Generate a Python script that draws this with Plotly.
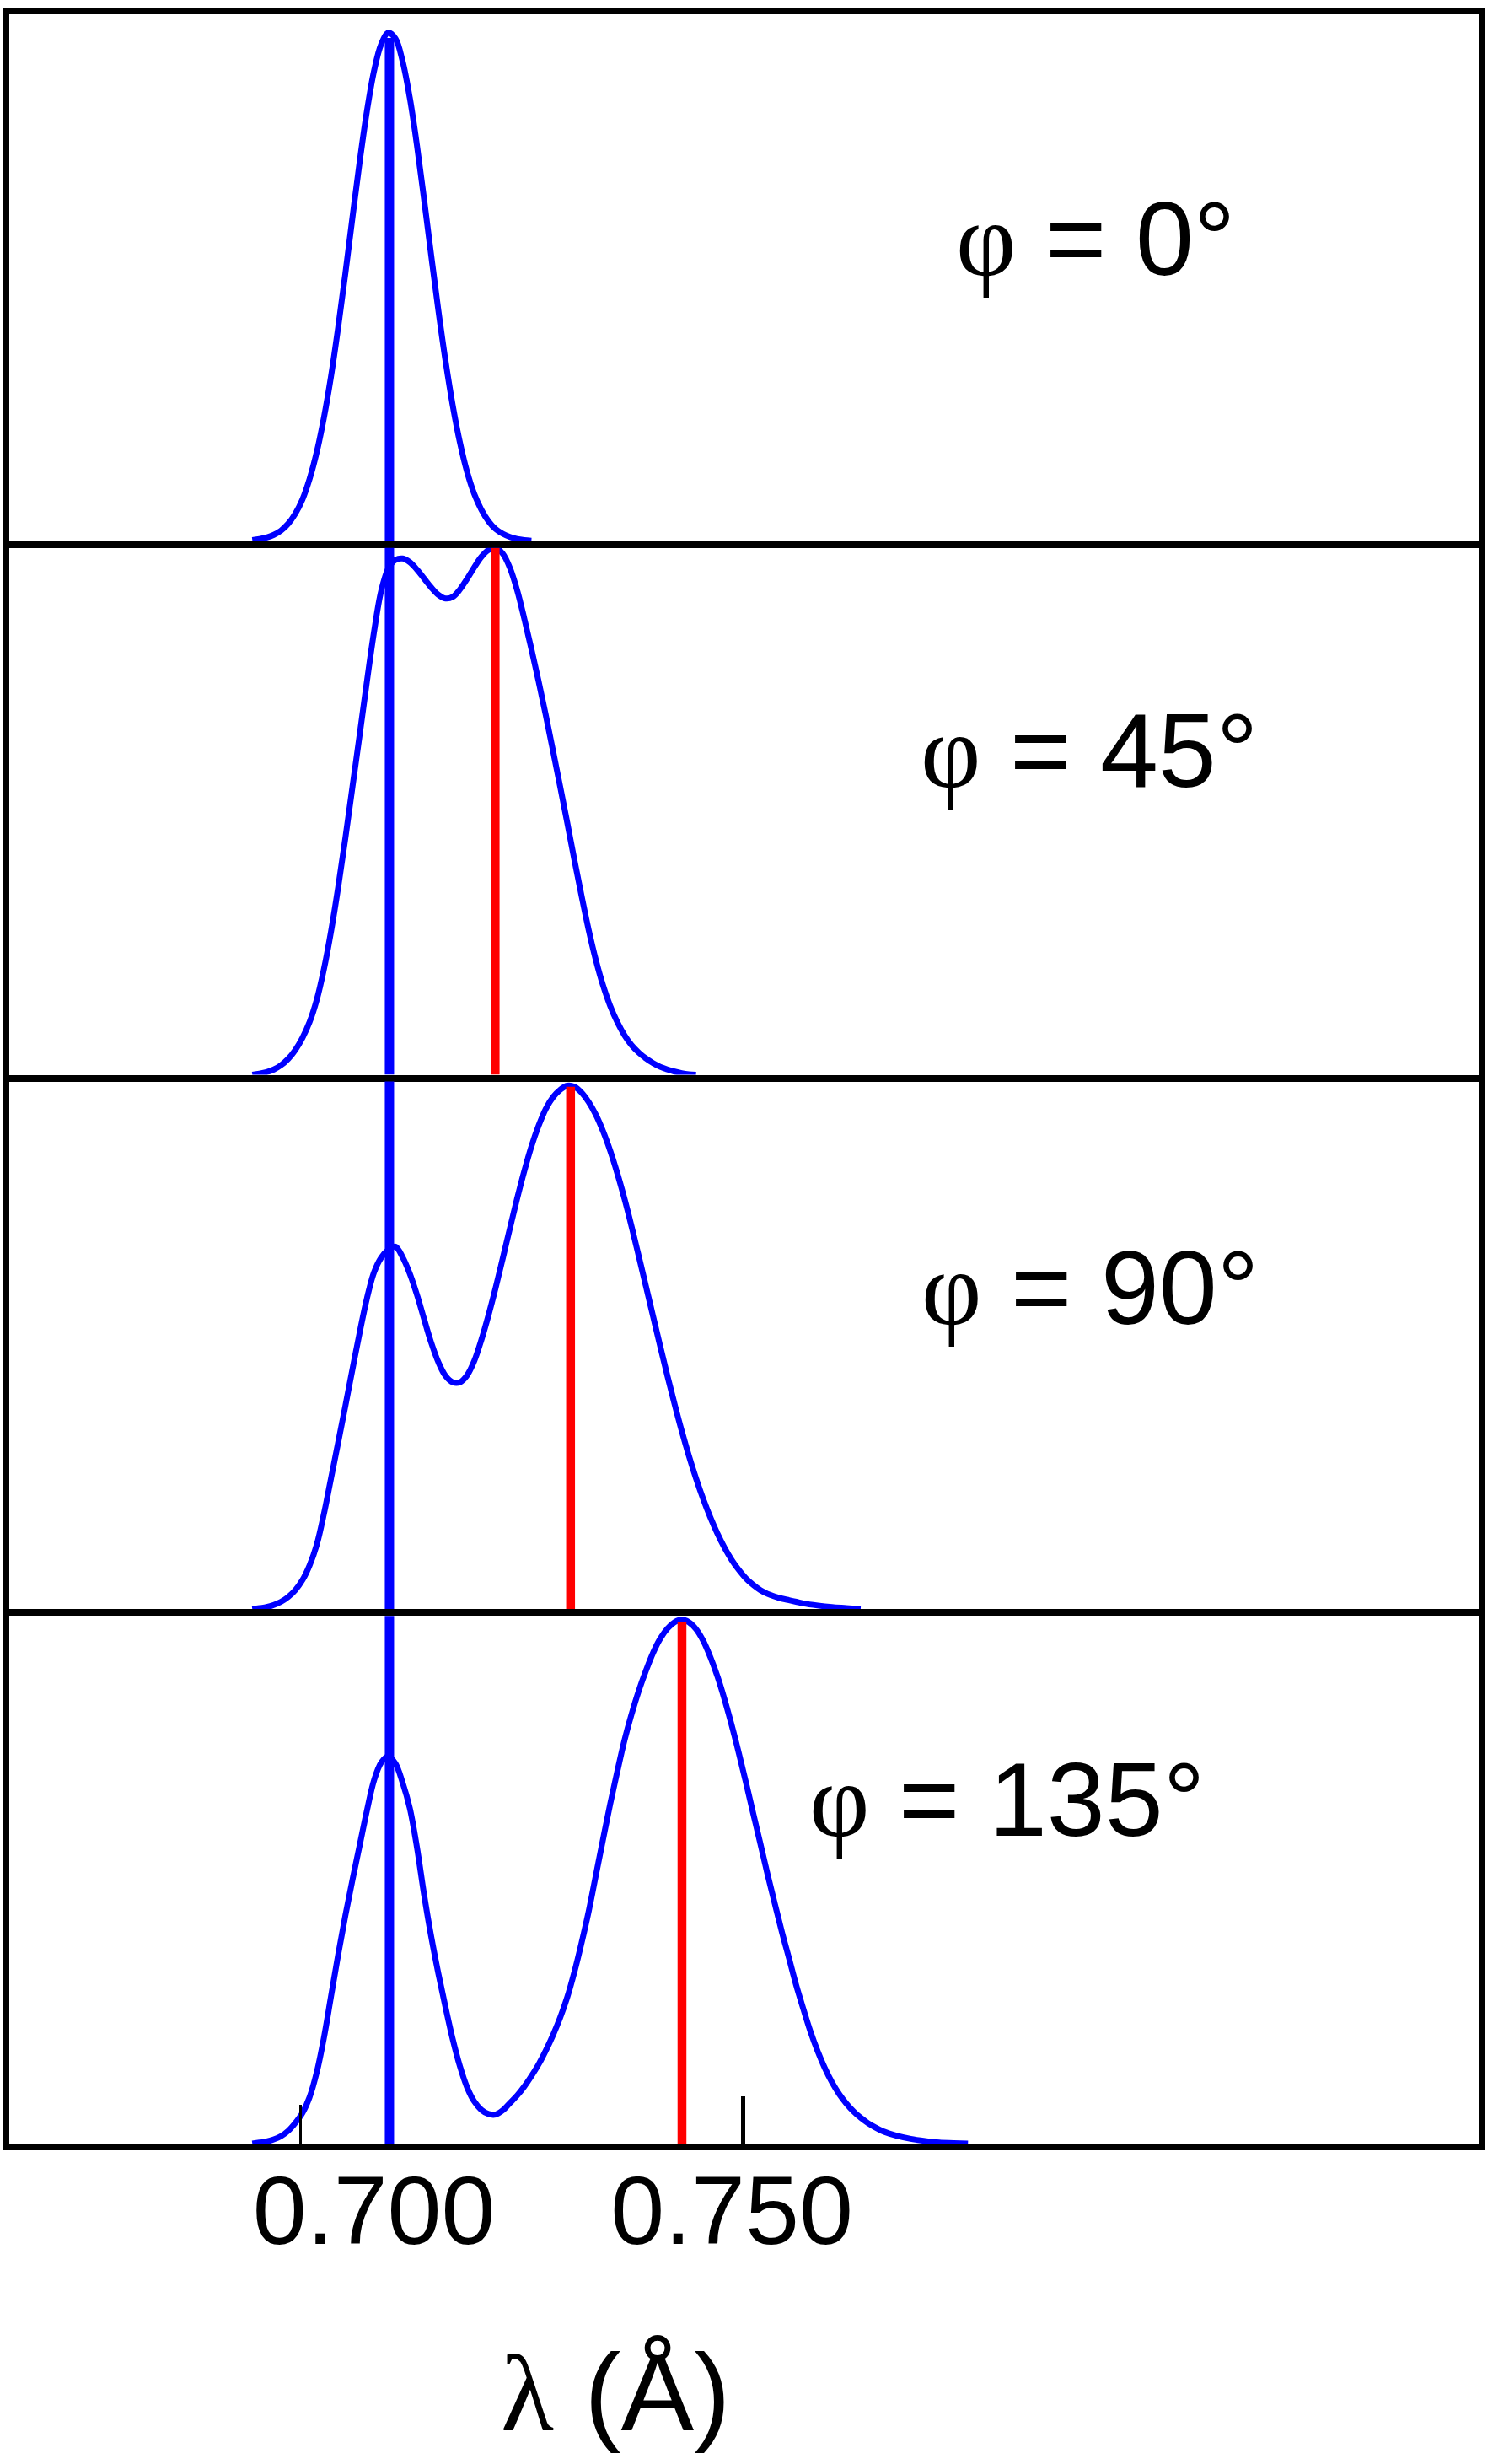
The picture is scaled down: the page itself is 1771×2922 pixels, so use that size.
import plotly.graph_objects as go

# ---------------- data ----------------
angle_labels = ["0°", "45°", "90°", "135°"]
tick_vals = [0.700, 0.750]
tick_text = ["0.700", "0.750"]
x_range = [0.64904, 0.85436]

# phi = 0 deg
lam_0 = [0.683, 0.684, 0.685, 0.686, 0.687, 0.688, 0.689, 0.690, 0.691, 0.692,
         0.693, 0.694, 0.695, 0.696, 0.697, 0.698, 0.699, 0.700, 0.701, 0.702,
         0.703, 0.704, 0.705, 0.706, 0.707, 0.708, 0.709, 0.710, 0.711, 0.712,
         0.713, 0.714, 0.715, 0.716, 0.717, 0.718, 0.719, 0.720, 0.721, 0.722]
int_0 = [0.002, 0.004, 0.007, 0.012, 0.020, 0.033, 0.052, 0.079, 0.118, 0.169,
         0.234, 0.313, 0.406, 0.508, 0.615, 0.720, 0.815, 0.892, 0.943, 0.965,
         0.954, 0.911, 0.842, 0.752, 0.649, 0.542, 0.438, 0.342, 0.258, 0.188,
         0.132, 0.090, 0.060, 0.038, 0.023, 0.014, 0.008, 0.004, 0.002, 0.001]

# phi = 45 deg
lam_45 = [0.683, 0.684, 0.685, 0.686, 0.687, 0.688, 0.689, 0.690, 0.691, 0.692,
          0.693, 0.694, 0.695, 0.696, 0.697, 0.698, 0.699, 0.700, 0.701, 0.702,
          0.703, 0.704, 0.705, 0.706, 0.707, 0.708, 0.709, 0.710, 0.711, 0.712,
          0.713, 0.714, 0.715, 0.716, 0.717, 0.718, 0.719, 0.720, 0.721, 0.722,
          0.723, 0.724, 0.725, 0.726, 0.727, 0.728, 0.729, 0.730, 0.731, 0.732,
          0.733, 0.734, 0.735, 0.736, 0.737, 0.738, 0.739, 0.740, 0.741, 0.742,
          0.743, 0.744, 0.745]
int_45 = [0.000, 0.002, 0.005, 0.010, 0.018, 0.030, 0.047, 0.070, 0.100, 0.142,
          0.200, 0.272, 0.356, 0.449, 0.547, 0.645, 0.745, 0.840, 0.918, 0.961,
          0.977, 0.980, 0.973, 0.959, 0.942, 0.925, 0.911, 0.904, 0.907, 0.921,
          0.941, 0.963, 0.983, 0.996, 1.000, 0.989, 0.962, 0.920, 0.866, 0.808,
          0.747, 0.683, 0.616, 0.548, 0.479, 0.408, 0.340, 0.275, 0.218, 0.170,
          0.131, 0.100, 0.075, 0.056, 0.042, 0.031, 0.022, 0.015, 0.010, 0.006,
          0.003, 0.001, 0.000]

# phi = 90 deg
lam_90 = [0.683, 0.684, 0.685, 0.686, 0.687, 0.688, 0.689, 0.690, 0.691, 0.692,
          0.693, 0.694, 0.695, 0.696, 0.697, 0.698, 0.699, 0.700, 0.701, 0.702,
          0.703, 0.704, 0.705, 0.706, 0.707, 0.708, 0.709, 0.710, 0.711, 0.712,
          0.713, 0.714, 0.715, 0.716, 0.717, 0.718, 0.719, 0.720, 0.721, 0.722,
          0.723, 0.724, 0.725, 0.726, 0.727, 0.728, 0.729, 0.730, 0.731, 0.732,
          0.733, 0.734, 0.735, 0.736, 0.737, 0.738, 0.739, 0.740, 0.741, 0.742,
          0.743, 0.744, 0.745, 0.746, 0.747, 0.748, 0.749, 0.750, 0.751, 0.752,
          0.753, 0.754, 0.755, 0.756, 0.757, 0.758, 0.759, 0.760, 0.762, 0.764,
          0.766, 0.768]
int_90 = [0.000, 0.002, 0.004, 0.008, 0.014, 0.023, 0.036, 0.055, 0.083, 0.122,
          0.180, 0.248, 0.316, 0.385, 0.455, 0.524, 0.588, 0.638, 0.666, 0.681,
          0.687, 0.667, 0.636, 0.596, 0.550, 0.505, 0.468, 0.442, 0.430, 0.430,
          0.443, 0.470, 0.510, 0.557, 0.609, 0.665, 0.722, 0.778, 0.830, 0.877,
          0.916, 0.948, 0.970, 0.984, 0.992, 0.990, 0.979, 0.961, 0.937, 0.906,
          0.869, 0.826, 0.778, 0.725, 0.669, 0.612, 0.555, 0.498, 0.442, 0.389,
          0.338, 0.291, 0.248, 0.209, 0.174, 0.143, 0.116, 0.093, 0.074, 0.058,
          0.046, 0.036, 0.029, 0.024, 0.020, 0.017, 0.014, 0.011, 0.007, 0.004,
          0.002, 0.000]

# phi = 135 deg
lam_135 = [0.683, 0.684, 0.685, 0.686, 0.687, 0.688, 0.689, 0.690, 0.691, 0.692,
           0.693, 0.694, 0.695, 0.696, 0.697, 0.698, 0.699, 0.700, 0.701, 0.702,
           0.703, 0.704, 0.705, 0.706, 0.707, 0.708, 0.709, 0.710, 0.711, 0.712,
           0.713, 0.714, 0.715, 0.716, 0.717, 0.718, 0.719, 0.720, 0.721, 0.722,
           0.723, 0.724, 0.725, 0.726, 0.727, 0.728, 0.729, 0.730, 0.731, 0.732,
           0.733, 0.734, 0.735, 0.736, 0.737, 0.738, 0.739, 0.740, 0.741, 0.742,
           0.743, 0.744, 0.745, 0.746, 0.747, 0.748, 0.749, 0.750, 0.751, 0.752,
           0.753, 0.754, 0.755, 0.756, 0.757, 0.758, 0.759, 0.760, 0.761, 0.762,
           0.763, 0.764, 0.765, 0.766, 0.767, 0.768, 0.769, 0.770, 0.771, 0.772,
           0.773, 0.775, 0.777, 0.779, 0.781, 0.783]
int_135 = [0.000, 0.002, 0.004, 0.008, 0.014, 0.024, 0.039, 0.058, 0.088, 0.135,
           0.200, 0.279, 0.358, 0.432, 0.500, 0.565, 0.630, 0.688, 0.722, 0.734,
           0.720, 0.684, 0.636, 0.562, 0.472, 0.392, 0.322, 0.258, 0.198, 0.147,
           0.107, 0.080, 0.064, 0.056, 0.055, 0.063, 0.077, 0.091, 0.108, 0.128,
           0.150, 0.176, 0.205, 0.238, 0.277, 0.325, 0.380, 0.440, 0.508, 0.576,
           0.643, 0.705, 0.764, 0.814, 0.858, 0.896, 0.930, 0.957, 0.976, 0.988,
           0.993, 0.988, 0.975, 0.953, 0.922, 0.885, 0.841, 0.792, 0.739, 0.683,
           0.625, 0.568, 0.510, 0.455, 0.401, 0.351, 0.300, 0.255, 0.212, 0.175,
           0.143, 0.116, 0.094, 0.076, 0.061, 0.049, 0.039, 0.031, 0.024, 0.019,
           0.015, 0.009, 0.005, 0.002, 0.001, 0.000]

# vertical reference lines
unshifted_lam = 0.70216
unshifted_top = [0.955, 1.02, 1.02, 1.02]
shifted_lam = [None, 0.71693, 0.72747, 0.74304]
shifted_top = [None, 1.0, 0.990, 0.989]

# two small marks on the bottom axis
minor_tick_long = [0.75164]
minor_tick_short = [0.68973]

# ---------------- figure ----------------
lams = [lam_0, lam_45, lam_90, lam_135]
ints = [int_0, int_45, int_90, int_135]

W, H = 1771, 2922
L, R, T, B = 11, 9, 12, 380
plot_h = H - T - B  # 2530


def px_to_paper_y(py):
    return (H - B - py) / plot_h


def px_to_paper_x(px):
    return (px - L) / (W - L - R)


panel_px = [(12, 638), (646, 1272), (1280, 1907), (1915, 2542)]
domains = [[px_to_paper_y(b), px_to_paper_y(t)] for (t, b) in panel_px]
domains[0][1] = 1.0
domains[3][0] = 0.0

BLUE = "#0000FF"
RED = "#FF0000"

fig = go.Figure()
for i in range(4):
    xa = "x" if i == 0 else f"x{i+1}"
    ya = "y" if i == 0 else f"y{i+1}"
    fig.add_trace(go.Scatter(x=lams[i], y=ints[i], mode="lines", xaxis=xa, yaxis=ya,
                             line=dict(color=BLUE, width=7, shape="spline", smoothing=1.0),
                             hoverinfo="skip", showlegend=False))
    fig.add_trace(go.Scatter(x=[unshifted_lam, unshifted_lam], y=[0, unshifted_top[i]],
                             mode="lines", xaxis=xa, yaxis=ya,
                             line=dict(color=BLUE, width=11), hoverinfo="skip", showlegend=False))
    if shifted_lam[i] is not None:
        fig.add_trace(go.Scatter(x=[shifted_lam[i], shifted_lam[i]], y=[0, shifted_top[i]],
                                 mode="lines", xaxis=xa, yaxis=ya,
                                 line=dict(color=RED, width=10.5), hoverinfo="skip",
                                 showlegend=False))

# invisible traces to host the overlay tick axes
fig.add_trace(go.Scatter(x=minor_tick_long, y=[0], xaxis="x5", yaxis="y4", mode="markers",
                         marker=dict(opacity=0), hoverinfo="skip", showlegend=False))
fig.add_trace(go.Scatter(x=minor_tick_short, y=[0], xaxis="x6", yaxis="y4", mode="markers",
                         marker=dict(opacity=0), hoverinfo="skip", showlegend=False))

layout = dict(
    width=W, height=H,
    margin=dict(l=L, r=R, t=T, b=B, pad=0),
    paper_bgcolor="white", plot_bgcolor="white",
    showlegend=False,
)

for i in range(4):
    xk = "xaxis" if i == 0 else f"xaxis{i+1}"
    yk = "yaxis" if i == 0 else f"yaxis{i+1}"
    ya = "y" if i == 0 else f"y{i+1}"
    xa = "x" if i == 0 else f"x{i+1}"
    layout[xk] = dict(
        domain=[0, 1], anchor=ya, range=x_range, showgrid=False, zeroline=False,
        showline=True, linecolor="black", linewidth=8, mirror=(i == 0),
        ticks="", showticklabels=(i == 3),
        tickvals=tick_vals, ticktext=tick_text, ticklabelstandoff=-27,
        tickfont=dict(family="Liberation Sans, Arial", size=115, color="black"),
        fixedrange=True,
    )
    layout[yk] = dict(
        domain=domains[i], anchor=xa, range=[0, 1], showgrid=False, zeroline=False,
        showline=True, linecolor="black", linewidth=8, mirror=True,
        ticks="", showticklabels=False, fixedrange=True,
    )

layout["xaxis5"] = dict(overlaying="x4", anchor="y4", range=x_range, side="bottom",
                        showgrid=False, zeroline=False, showline=False,
                        tickvals=minor_tick_long, ticks="inside", ticklen=56, tickwidth=5,
                        tickcolor="black", showticklabels=False, fixedrange=True)
layout["xaxis6"] = dict(overlaying="x4", anchor="y4", range=x_range, side="bottom",
                        showgrid=False, zeroline=False, showline=False,
                        tickvals=minor_tick_short, ticks="inside", ticklen=46, tickwidth=2.5,
                        tickcolor="black", showticklabels=False, fixedrange=True)

label_pos_px = [(1305, 279), (1298, 887), (1299, 1525), (1200, 2134)]
annotations = []
for (px, py), ang in zip(label_pos_px, angle_labels):
    annotations.append(dict(
        text=f'<span style="font-family:Liberation Serif">φ</span> = {ang}',
        xref="paper", yref="paper", x=px_to_paper_x(px), y=px_to_paper_y(py),
        xanchor="center", yanchor="middle", showarrow=False,
        font=dict(family="Liberation Sans, Arial", size=124, color="black"),
    ))
annotations.append(dict(
    text='<span style="font-family:Liberation Serif">λ</span> (Å)',
    xref="paper", yref="paper", x=px_to_paper_x(733.5), y=px_to_paper_y(2838),
    xanchor="center", yanchor="middle", showarrow=False,
    font=dict(family="Liberation Sans, Arial", size=130, color="black"),
))
layout["annotations"] = annotations

fig.update_layout(**layout)
fig.write_html("out.html", config=dict(displayModeBar=False),
               post_script="document.body.style.margin='0px';")
